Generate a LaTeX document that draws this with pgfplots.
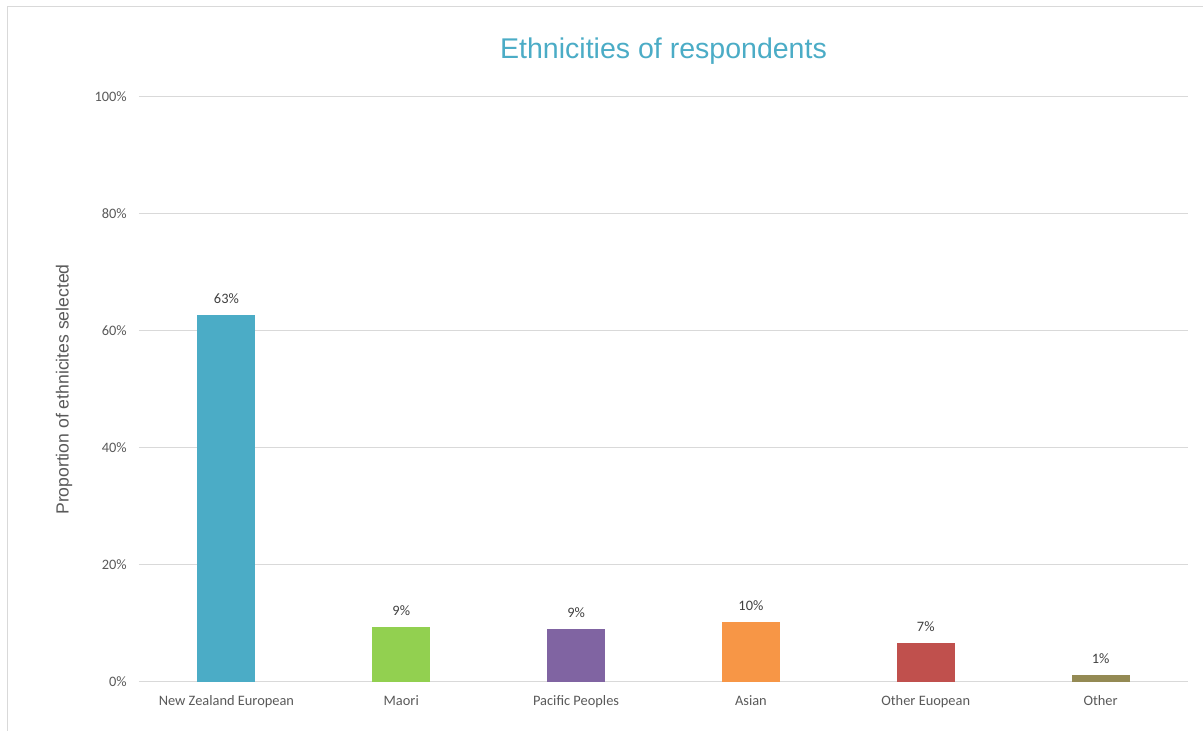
\documentclass[border=0pt]{standalone}
\usepackage{fontspec}
\setmainfont{Carlito}
\newfontfamily\arialf{Liberation Sans}
\usepackage{pgfplots}
\pgfplotsset{compat=1.18}
\definecolor{bordergray}{HTML}{D9D9D9}
\definecolor{gridgray}{HTML}{D9D9D9}
\definecolor{txtgray}{HTML}{595959}
\definecolor{lblgray}{HTML}{404040}
\definecolor{ctitle}{HTML}{4BACC6}
\definecolor{cnze}{HTML}{4BACC6}
\definecolor{cmaori}{HTML}{92D050}
\definecolor{cpac}{HTML}{8064A2}
\definecolor{casian}{HTML}{F79646}
\definecolor{coe}{HTML}{C0504D}
\definecolor{cother}{HTML}{948A54}
\begin{document}
\begin{tikzpicture}
\useasboundingbox (-104.25pt,-36.75pt) rectangle (798pt,511.5pt);
\draw[color=bordergray, line width=0.75pt] (-98.25pt,-36.75pt) -- (-98.25pt,506.25pt) -- (798pt,506.25pt);
\begin{axis}[
  at={(0pt,0pt)}, anchor=south west,
  scale only axis, width=786.75pt, height=438.75pt,
  xmin=-0.5, xmax=5.5, ymin=0, ymax=100,
  ytick={0,20,40,60,80,100},
  xtick={0,1,2,3,4,5},
  xticklabels={New Zealand European, Maori, Pacific Peoples, Asian, Other Euopean, Other},
  /pgf/number format/assume math mode=true,
  yticklabel={\pgfmathprintnumber{\tick}\%},
  axis line style={draw=none},
  major tick length=0pt,
  ymajorgrids,
  grid style={color=gridgray, line width=0.75pt},
  ticklabel style={font=\fontsize{10.8pt}{12pt}\selectfont, text=txtgray},
  yticklabel style={anchor=east, inner sep=0pt, xshift=-9pt},
  xticklabel style={anchor=base, inner sep=0pt, yshift=-17.6pt},
  ylabel={Proportion of ethnicites selected},
  ylabel style={at={(axis description cs:-0.0715,0.5)}, anchor=center, font=\arialf\fontsize{13.2pt}{15pt}\selectfont, text=txtgray},
  title={Ethnicities of respondents},
  title style={at={(axis description cs:0.5,1.0515)}, anchor=base, font=\arialf\fontsize{21.4pt}{25pt}\selectfont, text=ctitle},
  ybar, bar width=43.5pt, bar shift=0pt,
  nodes near coords={\pgfmathprintnumber[fixed,precision=0]{\pgfplotspointmeta}\%},
  nodes near coords style={anchor=base, inner sep=0pt, yshift=8.6pt, font=\fontsize{10.8pt}{12pt}\selectfont, text=lblgray},
]
\addplot[fill=cnze, draw=none] coordinates {(0,62.74)};
\addplot[fill=cmaori, draw=none] coordinates {(1,9.40)};
\addplot[fill=cpac, draw=none] coordinates {(2,9.06)};
\addplot[fill=casian, draw=none] coordinates {(3,10.26)};
\addplot[fill=coe, draw=none] coordinates {(4,6.72)};
\addplot[fill=cother, draw=none] coordinates {(5,1.2)};
\end{axis}
\end{tikzpicture}
\end{document}
